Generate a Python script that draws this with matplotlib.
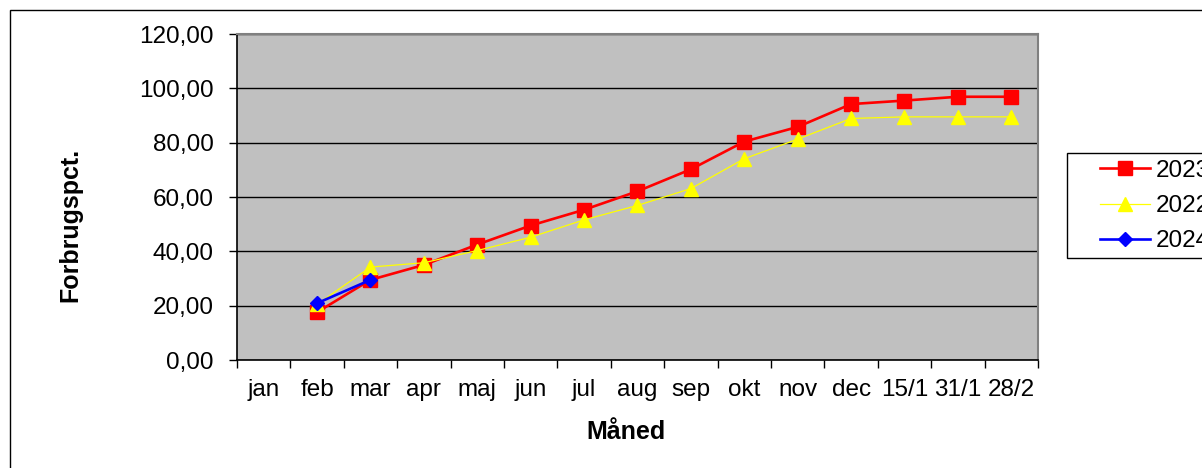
import numpy as np
import matplotlib
matplotlib.use("Agg")
import matplotlib.pyplot as plt
from matplotlib.patches import Rectangle
from matplotlib.ticker import FuncFormatter, FixedLocator

plt.rcParams["font.family"] = ["Liberation Sans", "DejaVu Sans"]

months = ["jan", "feb", "mar", "apr", "maj", "jun", "jul", "aug", "sep",
          "okt", "nov", "dec", "15/1", "31/1", "28/2"]
series_names = ["2023", "2022", "2024"]
red = [np.nan, 17.6, 29.5, 35.0, 42.5, 49.5, 55.3, 62.1, 70.2,
       80.4, 85.8, 94.2, 95.5, 96.9, 96.9]
yellow = [np.nan, 20.5, 34.2, 35.8, 40.3, 45.2, 51.6, 56.9, 63.1,
          74.1, 81.3, 88.9, 89.5, 89.5, 89.5]
blue = [np.nan, 20.9, 29.5] + [np.nan] * 12

W, H = 1202, 468
fig = plt.figure(figsize=(W / 100, H / 100), dpi=100)
ax = fig.add_axes([237 / W, 1 - 360 / H, (1038 - 237) / W, (360 - 34) / H])
ax.set_facecolor("#C0C0C0")

x = np.arange(len(months))
ax.plot(x, red, color="#FF0000", lw=1.9, marker="s", ms=9.5, mec="#FF0000",
        label=series_names[0], zorder=4)
ax.plot(x, yellow, color="#FFFF00", lw=0.9, marker="^", ms=10, mec="#FFFF00",
        label=series_names[1], zorder=5)
ax.plot(x, blue, color="#0000FF", lw=1.9, marker="D", ms=7.5, mec="#0000FF",
        label=series_names[2], zorder=6)

ax.set_xlim(-0.5, len(months) - 0.5)
ax.set_ylim(0, 120)
ax.set_yticks(np.arange(0, 121, 20))
ax.yaxis.set_major_formatter(FuncFormatter(lambda v, p: f"{v:.2f}".replace(".", ",")))
ax.grid(axis="y", color="black", lw=1.0, zorder=1)
ax.set_axisbelow(True)

ax.set_xticks(x)
ax.set_xticklabels(months)
ax.xaxis.set_minor_locator(FixedLocator(np.arange(-0.5, len(months), 1)))
ax.tick_params(axis="x", which="major", length=0, pad=14, labelsize=17.5)
ax.tick_params(axis="x", which="minor", length=6, width=1, direction="out")
ax.tick_params(axis="y", length=6, width=1, direction="out", pad=11, labelsize=17.5)

for s in ("left", "bottom"):
    ax.spines[s].set_color("black")
    ax.spines[s].set_linewidth(1.2)
for s in ("top", "right"):
    ax.spines[s].set_color("#808080")
    ax.spines[s].set_linewidth(1.5)

fig.text(626 / W, 1 - 432 / H, "Måned", ha="center", va="center",
         fontsize=18, fontweight="bold")
fig.text(70 / W, 1 - 225 / H, "Forbrugspct.", ha="center", va="center",
         rotation=90, fontsize=18, fontweight="bold")

# legend frame drawn separately; it runs off the right edge like the original
fig.patches.append(Rectangle((1067 / W, 1 - 258 / H), 0.2, 105 / H,
                             transform=fig.transFigure, facecolor="white",
                             edgecolor="black", lw=1.0, zorder=2))
leg = fig.legend(loc="center left", bbox_to_anchor=(1100 / W, 1 - 206 / H),
                 fontsize=17.5, frameon=False, handlelength=2.05,
                 borderpad=0, labelspacing=0.55, borderaxespad=0,
                 handletextpad=0.25)
leg.set_zorder(3)

fig.patches.append(Rectangle((10 / W, -0.1), 1.2, 1 - 10 / H + 0.1,
                             transform=fig.transFigure, fill=False,
                             edgecolor="black", lw=1.0))

fig.savefig("out.png", dpi=100)
